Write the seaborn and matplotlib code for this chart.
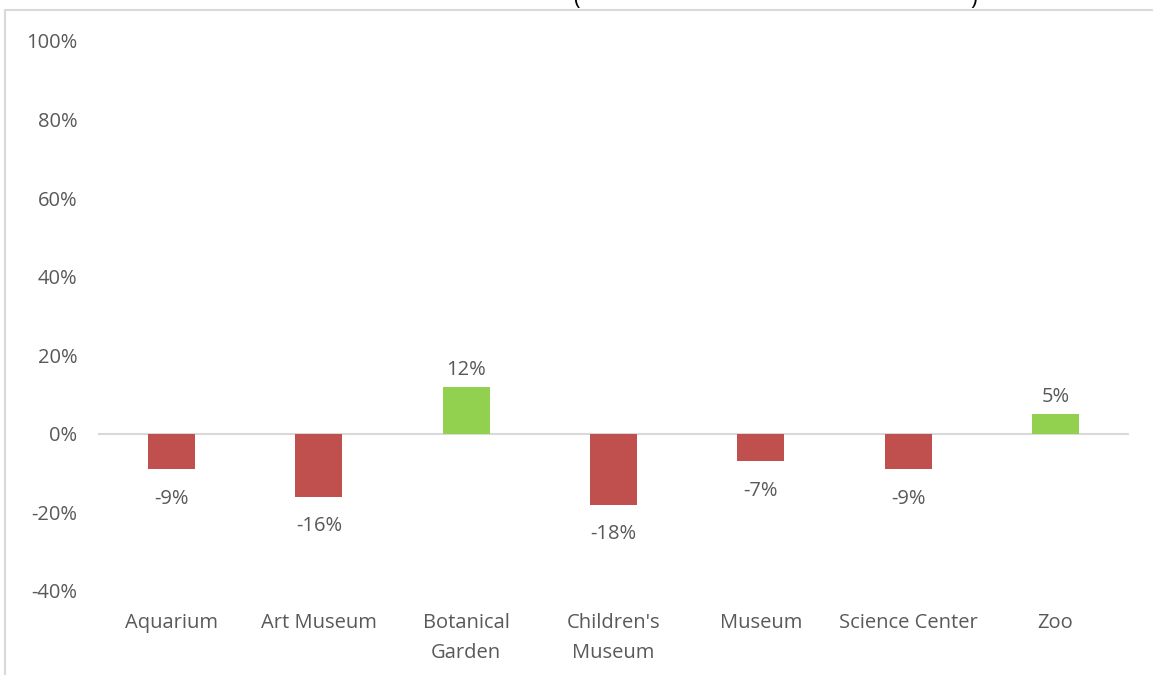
import matplotlib
matplotlib.use("Agg")
import matplotlib.pyplot as plt
import seaborn as sns
import pandas as pd
from matplotlib.ticker import FuncFormatter
from matplotlib.patches import Rectangle

# data
categories = ["Aquarium", "Art Museum", "Botanical\nGarden", "Children's\nMuseum",
              "Museum", "Science Center", "Zoo"]
pct_change = [-9, -16, 12, -18, -7, -9, 5]
y_ticks = [-40, -20, 0, 20, 40, 60, 80, 100]

RED = "#C0504D"
GREEN = "#92D050"
TEXT = "#595959"
FS = 14.5

df = pd.DataFrame({"category": categories, "change": pct_change})
df["sign"] = ["up" if v >= 0 else "down" for v in df["change"]]

sns.set_style("white")
plt.rcParams["font.family"] = ["Open Sans", "DejaVu Sans"]

W, H = 1153, 675
fig = plt.figure(figsize=(W / 100, H / 100), dpi=100)
ax = fig.add_axes([98 / W, 1 - 591 / H, (1129 - 98) / W, (591 - 41) / H])

sns.barplot(data=df, x="category", y="change", hue="sign",
            palette={"up": GREEN, "down": RED}, dodge=False, width=0.32,
            legend=False, ax=ax, saturation=1, linewidth=0)

ax.set_ylim(-40, 100)
ax.set_xlim(-0.5, len(categories) - 0.5)
ax.set_yticks(y_ticks)
ax.yaxis.set_major_formatter(FuncFormatter(lambda v, p: f"{v:.0f}%"))
ax.axhline(0, color="#D9D9D9", lw=1.5, zorder=0)
for s in ax.spines.values():
    s.set_visible(False)
ax.tick_params(axis="both", length=0, labelsize=FS, colors=TEXT)
ax.tick_params(axis="y", pad=15)
ax.tick_params(axis="x", pad=16)
for t in ax.get_xticklabels():
    t.set_linespacing(1.65)
ax.set_xlabel("")
ax.set_ylabel("")

# data labels
for i, v in enumerate(pct_change):
    if v >= 0:
        ax.annotate(f"{v}%", (i, v), xytext=(0, 5), textcoords="offset points",
                    ha="center", va="bottom", fontsize=FS, color=TEXT)
    else:
        ax.annotate(f"{v}%", (i, v), xytext=(0, -14), textcoords="offset points",
                    ha="center", va="top", fontsize=FS, color=TEXT)

# chart frame (cropped) and remnants of the title above it
fig.patches.append(Rectangle((5 / W, -0.1), 1.2, 1.1 - 10 / H,
                             transform=fig.transFigure, fill=False,
                             edgecolor="#D9D9D9", lw=1.5))
fig.text(576 / W, 1 - 5 / H, "(", fontsize=16, color="black", ha="center", va="baseline")
fig.text(974 / W, 1 - 5 / H, ")", fontsize=16, color="black", ha="center", va="baseline")

fig.savefig("out.png", dpi=100)
